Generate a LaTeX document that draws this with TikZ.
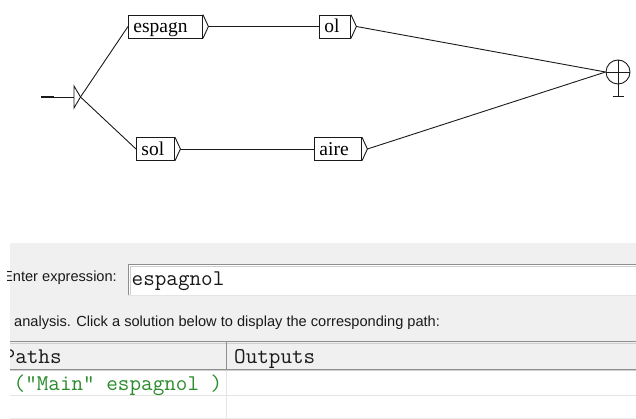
\documentclass[tikz,border=0pt]{standalone}
\usepackage{fontspec}
\setmainfont{Liberation Serif}
\setsansfont{Liberation Sans}
\usetikzlibrary{calc}
\definecolor{panel}{HTML}{F0F0F0}
\definecolor{rule}{HTML}{8E8E8E}
\definecolor{rulelight}{HTML}{CFCFCF}
\definecolor{faint}{HTML}{E4E4E4}
\definecolor{pathgreen}{HTML}{2A8C2A}
\definecolor{ink}{HTML}{1A1A1A}
\begin{document}
\begin{tikzpicture}[x=1pt,y=-1pt,
  box/.style={draw=ink, line width=0.9pt, rectangle, anchor=west,
    minimum height=23pt, inner xsep=5pt, inner ysep=0pt,
    text height=13pt, text depth=0.6pt, align=left,
    font=\fontsize{19.5}{19.5}\selectfont},
  edge/.style={draw=ink, line width=0.9pt},
  ui/.style={font=\sffamily\fontsize{14.6}{15}\selectfont, anchor=base west,
    inner sep=0pt, text=ink},
  code/.style={font=\ttfamily\fontsize{22.5}{23}\selectfont, anchor=base west,
    inner sep=0pt, text=ink},
]
\useasboundingbox (0,0) rectangle (636,419);

% ---------- automaton ----------
\node[box, text width=64pt] (espagn) at (128,26.5) {espagn};
\node[box, text width=21pt] (ol)     at (319,26.5) {ol};
\node[box, text width=28pt] (sol)    at (136,149)  {sol};
\node[box, text width=37pt] (aire)   at (314,149)  {aire};

% output bracket on the right side of each box
\foreach \b in {espagn,ol,sol,aire}{
  \draw[edge, line join=miter] (\b.north east) -- ($(\b.east)+(5.5,0)$) coordinate (\b-out)
    -- (\b.south east);
}

% initial state
\coordinate (entry) at (41,97);
\coordinate (tri-top) at (74,86);
\coordinate (tri-bot) at (74,108);
\coordinate (init) at (80.5,97);
\draw[draw=ink, line width=2.6pt] (entry) -- (54,97);
\draw[edge] (54,97) -- (74,97);
\draw[edge] (tri-top) -- (init) -- (tri-bot) -- cycle;

% final state
\node[circle, edge, minimum size=24pt, inner sep=0pt] (final) at (618,72) {};
\coordinate (foot) at (618,96);
\draw[edge] (final.west) -- (final.east);
\draw[edge] (final.north) -- (foot);
\draw[edge] ($(foot)+(-5.5,0)$) -- ($(foot)+(5.5,0)$);

% transitions
\draw[edge] (init) -- (espagn.west);
\draw[edge] (init) -- (sol.west);
\draw[edge] (espagn-out) -- (ol.west);
\draw[edge] (sol-out) -- (aire.west);
\draw[edge] (ol-out) -- (final.west);
\draw[edge] (aire-out) -- (final.west);

% ---------- expression panel ----------
\fill[panel] (10,243) rectangle (636,341);
\fill[white] (128,264) rectangle (636,295);
\draw[rule, line width=1.4pt] (128.7,295) -- (128.7,264.7) -- (636,264.7);
\draw[rulelight, line width=0.8pt] (130,295) -- (130,266.2) -- (636,266.2);
\draw[faint, line width=1pt] (128,295.5) -- (636,295.5);

\begin{scope}
  \clip (7,0) rectangle (636,419);
  \node[ui] (label) at (3,281.5) {Enter expression:};
\end{scope}
\node[code] (query) at (131.5,285) {espagnol};
\node[ui] (hint) at (14,326.5) {analysis. Click a solution below to display the corresponding path:};

% ---------- results table ----------
\fill[panel] (10,341) rectangle (636,371);
\draw[rule, line width=1.4pt] (10,341.7) -- (636,341.7);
\draw[rulelight, line width=0.8pt] (10,343.2) -- (636,343.2);
\draw[rule, line width=1.4pt] (10,369.3) -- (636,369.3);
\draw[rulelight, line width=0.8pt] (10,370.8) -- (636,370.8);
\draw[rule, line width=1.4pt] (226.7,342) -- (226.7,369.5);
\draw[faint, line width=1pt] (226.7,371) -- (226.7,419);
\draw[faint, line width=1pt] (10,395.5) -- (636,395.5);
\draw[faint!60, line width=1pt] (10,418.5) -- (636,418.5);

\begin{scope}
  \clip (10,341) rectangle (226,419);
  \node[code] (pathshead) at (3.5,363) {Paths};
  \node[code, text=pathgreen] (result) at (13.5,390) {("Main" espagnol )};
\end{scope}
\node[code] (outhead) at (234,363) {Outputs};
\end{tikzpicture}
\end{document}
